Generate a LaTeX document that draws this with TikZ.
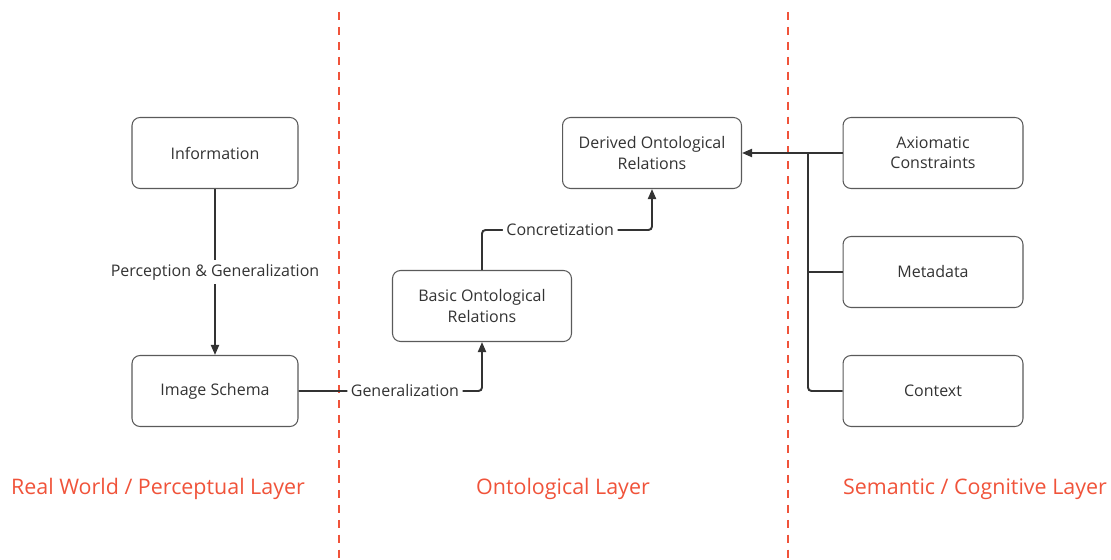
\documentclass[tikz,border=0pt]{standalone}
\usepackage{fontspec}
\setmainfont{Open Sans}
\usetikzlibrary{positioning, arrows.meta}
\definecolor{layerred}{HTML}{F0533A}
\definecolor{boxgray}{HTML}{5A5A5A}
\definecolor{linegray}{HTML}{333333}
\tikzset{
x=0.02cm, y=-0.02cm, % one unit is one pixel of the layout
concept/.style={draw=boxgray, line width=0.6pt, rounded corners=0.16cm, fill=white,
  text=linegray, font=\fontsize{9.1}{11.4}\selectfont, align=center,
  minimum width=3.6cm, minimum height=1.42cm, inner sep=2pt}, % the boxes
link/.style={draw=linegray, line width=1.1pt, -{Triangle[length=0.2cm,width=0.16cm]}}, % the connectors
linklabel/.style={fill=white, text=linegray, font=\fontsize{9.1}{11}\selectfont, inner sep=2pt},
divider/.style={draw=layerred, line width=1pt, dash pattern=on 4.5pt off 4pt}, % layer borders
layer/.style={text=layerred, font=\fontsize{12.2}{14}\selectfont},
}
\begin{document}
\begin{tikzpicture}
    \useasboundingbox (0,0) rectangle (1111,560);

    % layer borders
    \draw[divider] (339,12) -- (339,560);
    \draw[divider] (788,12) -- (788,560);

    % boxes
    \node[concept, minimum width=3.32cm] (info) at (215,153) {Information};
    \node[concept, minimum width=3.32cm] (schema) at (215,391) {Image Schema};
    \node[concept, minimum width=3.58cm] (basic) at (482,306) {Basic Ontological\\Relations};
    \node[concept, minimum width=3.58cm] (derived) at (652,153) {Derived Ontological\\Relations};
    \node[concept] (axiom) at (933,153) {Axiomatic\\Constraints};
    \node[concept] (meta) at (933,272) {Metadata};
    \node[concept] (context) at (933,391) {Context};

    % connectors
    \draw[link] (info) -- node[linklabel, pos=0.5]{Perception \& Generalization} (schema);
    \draw[link, rounded corners=2pt] (schema.east) -| node[linklabel, pos=0.29]{Generalization} (basic.south);
    \coordinate (bend) at (482,230);
    \draw[link, rounded corners=2pt] (basic.north) -- (bend) -| node[linklabel, pos=0.23]{Concretization} (derived.south);
    \coordinate (trunk) at (808,153);
    \draw[link] (axiom.west) -- (derived.east);
    \draw[draw=linegray, line width=1.1pt, rounded corners=2pt] (context.west) -| (trunk);
    \draw[draw=linegray, line width=1.1pt] (meta.west) -- (meta.west -| trunk);

    % layer names
    \node[layer] (realname) at (158,489) {Real World / Perceptual Layer};
    \node[layer] (ontoname) at (563,489) {Ontological Layer};
    \node[layer] (semname) at (975,489) {Semantic / Cognitive Layer};
\end{tikzpicture}
\end{document}
